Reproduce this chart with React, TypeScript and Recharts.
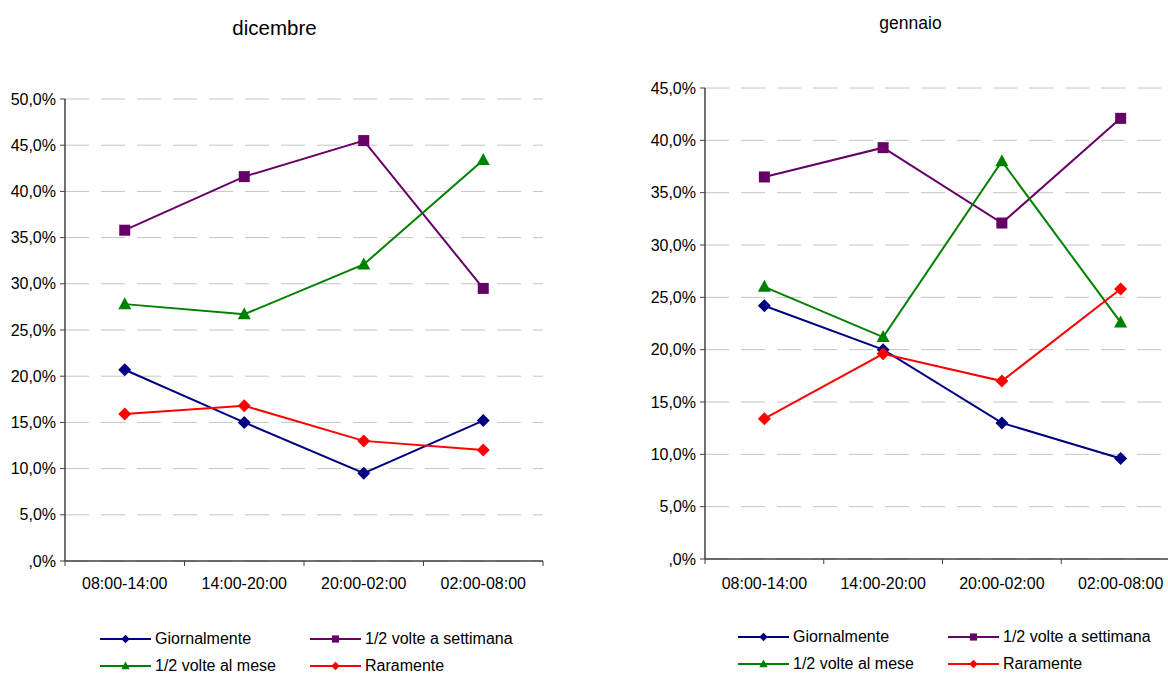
import React from 'react';
import { LineChart, Line, XAxis, YAxis, CartesianGrid } from 'recharts';

const categories = ['08:00-14:00', '14:00-20:00', '20:00-02:00', '02:00-08:00'];

const dicGiornalmente = [20.7, 15.0, 9.5, 15.2];
const dicSettimana = [35.8, 41.6, 45.5, 29.5];
const dicMese = [27.8, 26.7, 32.1, 43.4];
const dicRaramente = [15.9, 16.8, 13.0, 12.0];

const genGiornalmente = [24.2, 20.0, 13.0, 9.6];
const genSettimana = [36.5, 39.3, 32.1, 42.1];
const genMese = [26.0, 21.2, 38.0, 22.6];
const genRaramente = [13.4, 19.6, 17.0, 25.8];

const dicTicks = [0, 5, 10, 15, 20, 25, 30, 35, 40, 45, 50];
const genTicks = [0, 5, 10, 15, 20, 25, 30, 35, 40, 45];
const xTicks = [0, 0.5, 1, 1.5, 2, 2.5, 3, 3.5, 4];

const FONT = '"Liberation Sans", Arial, sans-serif';

type Shape = 'diamond' | 'square' | 'triangle';

const series: { key: string; name: string; color: string; shape: Shape }[] = [
  { key: 'giornalmente', name: 'Giornalmente', color: '#000080', shape: 'diamond' },
  { key: 'settimana', name: '1/2 volte a settimana', color: '#660066', shape: 'square' },
  { key: 'mese', name: '1/2 volte al mese', color: '#008000', shape: 'triangle' },
  { key: 'raramente', name: 'Raramente', color: '#FF0000', shape: 'diamond' },
];

const buildRows = (g: number[], s: number[], m: number[], r: number[]) =>
  categories.map((label, i) => ({
    pos: i + 0.5,
    label,
    giornalmente: g[i],
    settimana: s[i],
    mese: m[i],
    raramente: r[i],
  }));

const dicData = buildRows(dicGiornalmente, dicSettimana, dicMese, dicRaramente);
const genData = buildRows(genGiornalmente, genSettimana, genMese, genRaramente);

const fmtPct = (v: number) => (v === 0 ? ',0%' : v.toFixed(1).replace('.', ',') + '%');

function drawMarker(shape: Shape, color: string, cx: number, cy: number, k: number, key?: string) {
  if (shape === 'square') {
    return <rect key={key} x={cx - 5.5 * k} y={cy - 5.5 * k} width={11 * k} height={11 * k} fill={color} />;
  }
  if (shape === 'triangle') {
    const pts = `${cx},${cy - 7 * k} ${cx + 6.5 * k},${cy + 5 * k} ${cx - 6.5 * k},${cy + 5 * k}`;
    return <polygon key={key} points={pts} fill={color} />;
  }
  const pts = `${cx},${cy - 6.5 * k} ${cx + 6.5 * k},${cy} ${cx},${cy + 6.5 * k} ${cx - 6.5 * k},${cy}`;
  return <polygon key={key} points={pts} fill={color} />;
}

const makeDot = (shape: Shape, color: string) => (props: any) => {
  const { cx, cy, index } = props;
  if (cx == null || cy == null) return <g key={`e-${index}`} />;
  return drawMarker(shape, color, cx, cy, 1, `d-${index}`);
};

const XTick = (props: any) => {
  const { x, y, payload, margin } = props;
  const v = payload.value as number;
  if (Number.isInteger(v)) {
    return <line x1={x} x2={x} y1={y - margin - 5} y2={y - margin} stroke="#404040" strokeWidth={1} />;
  }
  return (
    <text x={x} y={y} dy="0.71em" textAnchor="middle" fill="#000" fontSize={16} fontFamily={FONT}>
      {categories[Math.floor(v)]}
    </text>
  );
};

function Chart(props: {
  data: any[];
  ticks: number[];
  max: number;
  width: number;
  height: number;
  top: number;
  right: number;
  xHeight: number;
  tickMargin: number;
}) {
  const { data, ticks, max, width, height, top, right, xHeight, tickMargin } = props;
  return (
    <LineChart width={width} height={height} data={data} margin={{ top, right, bottom: 0, left: 0 }}>
      <CartesianGrid vertical={false} stroke="#c4c4c4" strokeDasharray="24 12" />
      <XAxis
        dataKey="pos"
        type="number"
        domain={[0, 4]}
        ticks={xTicks}
        height={xHeight}
        tickSize={5}
        tickMargin={tickMargin}
        tickLine={false}
        axisLine={{ stroke: '#404040', strokeWidth: 1.5 }}
        tick={<XTick margin={tickMargin} />}
        interval={0}
      />
      <YAxis
        width={65}
        domain={[0, max]}
        ticks={ticks}
        tickFormatter={fmtPct}
        tickSize={5}
        tickMargin={4}
        axisLine={{ stroke: '#404040', strokeWidth: 1.5 }}
        tickLine={{ stroke: '#404040' }}
        tick={{ fill: '#000', fontSize: 16, fontFamily: FONT }}
        interval={0}
      />
      {series.map((s) => (
        <Line
          key={s.key}
          dataKey={s.key}
          name={s.name}
          stroke={s.color}
          strokeWidth={2}
          dot={makeDot(s.shape, s.color)}
          activeDot={false}
          isAnimationActive={false}
        />
      ))}
    </LineChart>
  );
}

function LegendBlock(props: { left: number; top: number; colGap: number; rowGap: number }) {
  const { left, top, colGap, rowGap } = props;
  return (
    <div style={{ position: 'absolute', left, top, fontFamily: FONT, fontSize: 16 }}>
      {series.map((s, i) => {
        const col = i % 2;
        const row = Math.floor(i / 2);
        return (
          <div
            key={s.key}
            style={{
              position: 'absolute',
              left: col * colGap,
              top: row * rowGap,
              display: 'flex',
              alignItems: 'center',
              whiteSpace: 'nowrap',
              height: 20,
            }}
          >
            <svg width={55} height={20} style={{ display: 'block' }}>
              <line x1={0} x2={51} y1={10} y2={10} stroke={s.color} strokeWidth={2} />
              {drawMarker(s.shape, s.color, 25.5, 10, 0.65)}
            </svg>
            <span style={{ color: '#000', lineHeight: '20px' }}>{s.name}</span>
          </div>
        );
      })}
    </div>
  );
}

export default function App() {
  return (
    <div
      style={{
        position: 'absolute',
        left: 0,
        top: 0,
        width: 1168,
        height: 673,
        overflow: 'hidden',
        background: '#fff',
      }}
    >
      <div
        style={{
          position: 'absolute',
          left: 0,
          width: 550,
          top: 16,
          textAlign: 'center',
          fontFamily: FONT,
          fontSize: 20.5,
          color: '#000',
        }}
      >
        <span style={{ position: 'absolute', left: 274.5, transform: 'translateX(-50%)' }}>dicembre</span>
      </div>
      <div
        style={{
          position: 'absolute',
          left: 0,
          top: 13,
          fontFamily: FONT,
          fontSize: 17.5,
          color: '#000',
        }}
      >
        <span style={{ position: 'absolute', left: 910.5, transform: 'translateX(-50%)', whiteSpace: 'nowrap' }}>
          gennaio
        </span>
      </div>

      <div style={{ position: 'absolute', left: 0, top: 0 }}>
        <Chart
          data={dicData}
          ticks={dicTicks}
          max={50}
          width={560}
          height={600}
          top={99}
          right={17}
          xHeight={39}
          tickMargin={12}
        />
      </div>
      <div style={{ position: 'absolute', left: 640, top: 0 }}>
        <Chart
          data={genData}
          ticks={genTicks}
          max={45}
          width={545}
          height={600}
          top={88}
          right={5}
          xHeight={41}
          tickMargin={14}
        />
      </div>

      <LegendBlock left={100} top={629} colGap={210} rowGap={27} />
      <LegendBlock left={738} top={627} colGap={210} rowGap={27} />
    </div>
  );
}
